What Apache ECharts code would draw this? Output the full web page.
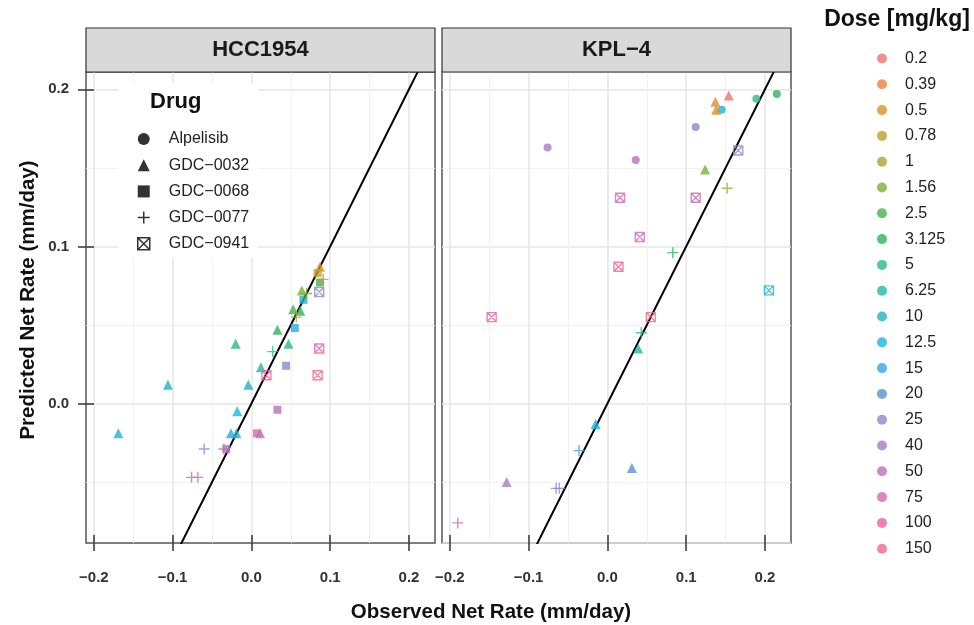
<!DOCTYPE html>
<html>
<head>
<meta charset="utf-8">
<script src="https://cdn.jsdelivr.net/npm/echarts@6/dist/echarts.min.js"></script>
<style>html,body{margin:0;padding:0;background:#fff;}#c{width:974px;height:625px;}</style>
</head>
<body>
<div id="c"></div>
<script>
// ---- data ----
const panels = ['HCC1954', 'KPL−4'];
const drugs = ['Alpelisib', 'GDC−0032', 'GDC−0068', 'GDC−0077', 'GDC−0941'];
const doseLevels = ['0.2','0.39','0.5','0.78','1','1.56','2.5','3.125','5','6.25','10','12.5','15','20','25','40','50','75','100','150'];
const doseColors = ['#EE746E','#E8843A','#D8921E','#C29E2A','#A6A82C','#7FAE38','#45B549','#2DB55C','#2DB984','#20B9A8','#1FB3BF','#1AB3DF','#2FA6EA','#5A92D3','#8B8ACB','#A67DC1','#BC70B6','#D568AF','#EB629F','#EC6B88'];
const xTicks = [-0.2, -0.1, 0.0, 0.1, 0.2];
const yTicks = [0.0, 0.1, 0.2];

// [observed, predicted, dose]
const hccAlpelisib = [];
const hccGDC0032 = [[-0.169,-0.019,'12.5'],[-0.106,0.012,'10'],[-0.020,0.038,'5'],[0.033,0.047,'3.125'],[0.012,0.023,'6.25'],[-0.004,0.012,'10'],[-0.018,-0.005,'12.5'],[-0.026,-0.019,'15'],[-0.019,-0.019,'10'],[0.047,0.038,'5'],[0.064,0.072,'1.56'],[0.053,0.060,'2.5'],[0.062,0.059,'3.125'],[0.011,-0.019,'40'],[0.087,0.087,'0.5']];
const hccGDC0068 = [[0.055,0.048,'15'],[0.044,0.024,'25'],[0.033,-0.004,'50'],[0.007,-0.019,'75'],[-0.032,-0.029,'50'],[0.087,0.077,'2.5'],[0.066,0.066,'10'],[0.084,0.083,'0.78']];
const hccGDC0077 = [[0.027,0.033,'5'],[-0.060,-0.029,'25'],[-0.035,-0.029,'40'],[-0.076,-0.047,'50'],[-0.068,-0.047,'50'],[0.091,0.079,'0.39'],[0.070,0.070,'1.56'],[0.057,0.055,'1']];
const hccGDC0941 = [[0.019,0.018,'100'],[0.086,0.035,'100'],[0.084,0.018,'150'],[0.086,0.071,'25']];

const kplAlpelisib = [[0.145,0.187,'12.5'],[0.189,0.194,'5'],[0.215,0.197,'3.125'],[0.112,0.176,'25'],[-0.076,0.163,'40'],[0.036,0.155,'50']];
const kplGDC0032 = [[0.154,0.196,'0.2'],[0.137,0.192,'0.39'],[0.138,0.187,'0.5'],[0.124,0.149,'1.56'],[0.039,0.035,'6.25'],[-0.015,-0.013,'12.5'],[0.031,-0.041,'20'],[-0.128,-0.050,'40']];
const kplGDC0068 = [];
const kplGDC0077 = [[0.152,0.137,'1'],[0.083,0.096,'3.125'],[0.043,0.045,'5'],[-0.036,-0.030,'15'],[-0.065,-0.054,'25'],[-0.061,-0.054,'25'],[-0.190,-0.076,'75']];
const kplGDC0941 = [[0.166,0.161,'25'],[0.016,0.131,'75'],[0.112,0.131,'50'],[0.041,0.106,'75'],[0.014,0.087,'100'],[0.205,0.072,'12.5'],[-0.147,0.055,'100'],[0.055,0.055,'150']];

const panelData = [
  [hccAlpelisib, hccGDC0032, hccGDC0068, hccGDC0077, hccGDC0941],
  [kplAlpelisib, kplGDC0032, kplGDC0068, kplGDC0077, kplGDC0941]
];

// ---- styling ----
const FONT = "'Liberation Sans', Arial, Helvetica, sans-serif";
const X_MIN = -0.21, X_MAX = 0.233, Y_MIN = -0.0888, Y_MAX = 0.211;
const PLUS = 'path://M5,0L5,10M0,5L10,5';
const XSQ = 'path://M0,0L10,0L10,10L0,10Z M0,0L10,10M10,0L0,10';
const symbols = ['circle', 'triangle', 'rect', PLUS, XSQ];
const sizes = [8, 10, 8, 11, 9];
const openSym = [false, false, false, true, true];
const colorOf = d => doseColors[doseLevels.indexOf(d)];
const fmt = v => { const r = Math.round(v * 10) / 10; return (r < 0 ? '−' : '') + Math.abs(r).toFixed(1); };

const grids = [
  {left: 86, top: 72, width: 349, height: 471, show: true, borderColor: '#555', borderWidth: 1.5, backgroundColor: '#fff'},
  {left: 442, top: 72, width: 349, height: 471, show: true, borderColor: '#555', borderWidth: 1.5, backgroundColor: '#fff'}
];

const xAxes = [], yAxes = [];
for (let g = 0; g < 2; g++) {
  xAxes.push({
    type: 'value', gridIndex: g, min: X_MIN, max: X_MAX, splitNumber: 5, position: 'bottom',
    axisLine: {show: false, onZero: false},
    axisTick: {show: true, length: 8, customValues: xTicks, lineStyle: {color: '#333', width: 1.5}},
    axisLabel: {show: true, customValues: xTicks, formatter: fmt, margin: 27, color: '#333', fontFamily: FONT, fontSize: 15, fontWeight: 'bold'},
    splitLine: {show: true, lineStyle: {color: '#E6E6E6', width: 1.5}},
    minorTick: {show: false, splitNumber: 2},
    minorSplitLine: {show: true, lineStyle: {color: '#F1F1F1', width: 1}}
  });
  xAxes.push({
    type: 'value', gridIndex: g, min: X_MIN, max: X_MAX, splitNumber: 5, position: 'bottom',
    axisLine: {show: false, onZero: false},
    axisTick: {show: true, inside: true, length: 8, customValues: xTicks, lineStyle: {color: '#333', width: 1.5}},
    axisLabel: {show: false}, splitLine: {show: false}
  });
}
yAxes.push({
  type: 'value', gridIndex: 0, min: Y_MIN, max: Y_MAX, splitNumber: 3, position: 'left',
  axisLine: {show: false, onZero: false},
  axisTick: {show: true, length: 8, customValues: yTicks, lineStyle: {color: '#333', width: 1.5}},
  axisLabel: {show: true, customValues: yTicks, formatter: fmt, margin: 17, color: '#333', fontFamily: FONT, fontSize: 15, fontWeight: 'bold'},
  splitLine: {show: true, lineStyle: {color: '#E6E6E6', width: 1.5}},
  minorTick: {show: false, splitNumber: 2},
  minorSplitLine: {show: true, lineStyle: {color: '#F1F1F1', width: 1}}
});
yAxes.push({
  type: 'value', gridIndex: 0, min: Y_MIN, max: Y_MAX, splitNumber: 3, position: 'left',
  axisLine: {show: false, onZero: false},
  axisTick: {show: true, inside: true, length: 8, customValues: yTicks, lineStyle: {color: '#333', width: 1.5}},
  axisLabel: {show: false}, splitLine: {show: false}
});
yAxes.push({
  type: 'value', gridIndex: 1, min: Y_MIN, max: Y_MAX, splitNumber: 3, position: 'left',
  axisLine: {show: false, onZero: false},
  axisTick: {show: false}, axisLabel: {show: false},
  splitLine: {show: true, lineStyle: {color: '#E6E6E6', width: 1.5}},
  minorTick: {show: false, splitNumber: 2},
  minorSplitLine: {show: true, lineStyle: {color: '#F1F1F1', width: 1}}
});

const series = [];
const mainX = [0, 2], mainY = [0, 2];
for (let g = 0; g < 2; g++) {
  series.push({
    type: 'line', name: 'identity', xAxisIndex: mainX[g], yAxisIndex: mainY[g],
    data: [[-0.3, -0.3], [0.3, 0.3]], showSymbol: false, symbol: 'none', clip: true, silent: true,
    lineStyle: {color: '#000', width: 2}, z: 1
  });
  drugs.forEach((d, i) => {
    series.push({
      type: 'scatter', name: d, xAxisIndex: mainX[g], yAxisIndex: mainY[g],
      symbol: symbols[i], symbolSize: sizes[i], z: 3,
      data: panelData[g][i].map(p => ({
        value: [p[0], p[1]],
        itemStyle: openSym[i]
          ? {color: 'rgba(0,0,0,0)', borderColor: colorOf(p[2]), borderWidth: 1.4}
          : {color: colorOf(p[2]), borderWidth: 0}
      }))
    });
  });
}
// dose legend entries
doseLevels.forEach((d, i) => {
  series.push({type: 'scatter', name: d, xAxisIndex: 0, yAxisIndex: 0, data: [], itemStyle: {color: doseColors[i]}});
});

const drugLegendData = drugs.map((d, i) => ({
  name: d, icon: symbols[i],
  itemStyle: openSym[i] ? {color: 'rgba(0,0,0,0)', borderColor: '#000', borderWidth: 1.5} : {color: '#000', borderWidth: 0}
}));

const option = {
  backgroundColor: '#fff',
  animation: false,
  grid: grids,
  xAxis: xAxes,
  yAxis: yAxes,
  series: series,
  legend: [
    {
      data: drugLegendData, orient: 'vertical', left: 118, top: 83, selectedMode: false,
      itemWidth: 12, itemHeight: 12, itemGap: 10.2, padding: [48, 9, 6, 19],
      backgroundColor: '#fff',
      textStyle: {fontFamily: FONT, fontSize: 16, lineHeight: 16, color: '#222', padding: [0, 0, 0, 14]}
    },
    {
      data: doseLevels.map(d => ({name: d, icon: 'circle'})), orient: 'vertical', left: 877, top: 50.5, selectedMode: false,
      itemWidth: 10, itemHeight: 10, itemGap: 9.8, padding: 0,
      textStyle: {fontFamily: FONT, fontSize: 16, lineHeight: 16, color: '#222', padding: [0, 0, 0, 13]}
    }
  ],
  graphic: [
    {type: 'rect', shape: {x: 86, y: 28, width: 349, height: 44}, style: {fill: '#D9D9D9', stroke: '#333', lineWidth: 1.2}, z: 10},
    {type: 'rect', shape: {x: 442, y: 28, width: 349, height: 44}, style: {fill: '#D9D9D9', stroke: '#333', lineWidth: 1.2}, z: 10},
    {type: 'text', x: 260.5, y: 50, style: {text: panels[0], font: 'bold 22px ' + FONT, fill: '#1a1a1a', textAlign: 'center', textVerticalAlign: 'middle'}, z: 11},
    {type: 'text', x: 616.5, y: 50, style: {text: panels[1], font: 'bold 22px ' + FONT, fill: '#1a1a1a', textAlign: 'center', textVerticalAlign: 'middle'}, z: 11},
    {type: 'text', x: 150, y: 102, style: {text: 'Drug', font: 'bold 22px ' + FONT, fill: '#111', textAlign: 'left', textVerticalAlign: 'middle'}, z: 20},
    {type: 'text', x: 897, y: 20, style: {text: 'Dose [mg/kg]', font: 'bold 23px ' + FONT, fill: '#111', textAlign: 'center', textVerticalAlign: 'middle'}, z: 20},
    {type: 'text', x: 491, y: 612, style: {text: 'Observed Net Rate (mm/day)', font: 'bold 20.5px ' + FONT, fill: '#111', textAlign: 'center', textVerticalAlign: 'middle'}, z: 20},
    {type: 'text', x: 28, y: 300, rotation: Math.PI / 2, style: {text: 'Predicted Net Rate (mm/day)', font: 'bold 20.5px ' + FONT, fill: '#111', textAlign: 'center', textVerticalAlign: 'middle'}, z: 20}
  ]
};

const chart = echarts.init(document.getElementById('c'));
chart.setOption(option);
</script>
</body>
</html>
